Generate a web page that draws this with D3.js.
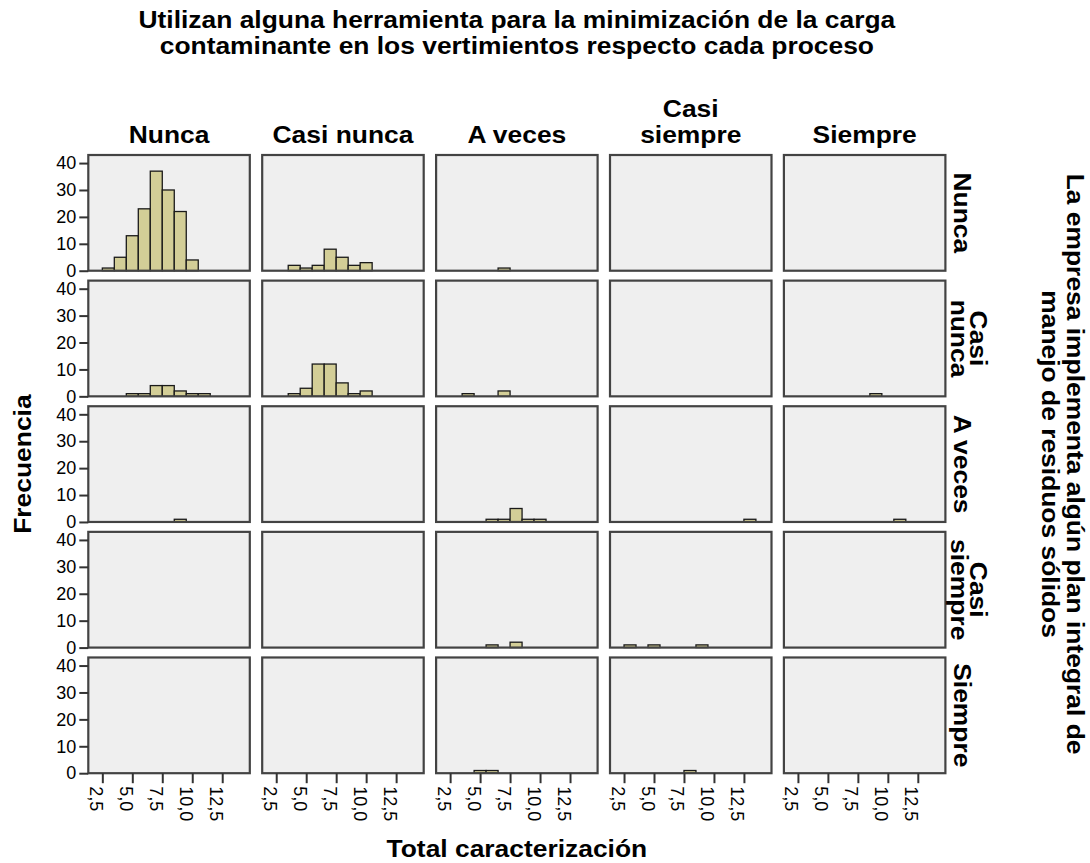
<!DOCTYPE html>
<html>
<head>
<meta charset="utf-8">
<script src="https://cdn.jsdelivr.net/npm/d3@7"></script>
<style>
  html, body { margin: 0; padding: 0; background: #ffffff; }
  svg { display: block; }
  text { font-family: "Liberation Sans", Arial, sans-serif; fill: #000; }
</style>
</head>
<body>
<svg id="chart" width="1090" height="863"></svg>
<script>
// ---------------- DATA ----------------
const titleLines = [
  "Utilizan alguna herramienta para la minimización de la carga",
  "contaminante en los vertimientos respecto cada proceso"
];
const colCategories = ["Nunca", "Casi nunca", "A veces", "Casi siempre", "Siempre"];
const rowCategories = ["Nunca", "Casi nunca", "A veces", "Casi siempre", "Siempre"];
const rowTitleLines = [
  "La empresa implementa algún plan integral de",
  "manejo de residuos sólidos"
];
const yTitle = "Frecuencia";
const xTitle = "Total caracterización";
const xTicks = [2.5, 5.0, 7.5, 10.0, 12.5];
const yTicks = [0, 10, 20, 30, 40];
const xDomain = [1.33, 14.8];
const yDomain = [0, 43];

// histogram cells: bin centers (bin width 1) and frequencies
const cells = [
  { row: "Nunca",        col: "Nunca",        x: [3, 4, 5, 6, 7, 8, 9, 10], n: [1, 5, 13, 23, 37, 30, 22, 4] },
  { row: "Nunca",        col: "Casi nunca",   x: [4, 5, 6, 7, 8, 9, 10],    n: [2, 1, 2, 8, 5, 2, 3] },
  { row: "Nunca",        col: "A veces",      x: [7],                       n: [1] },
  { row: "Casi nunca",   col: "Nunca",        x: [5, 6, 7, 8, 9, 10, 11],   n: [1, 1, 4, 4, 2, 1, 1] },
  { row: "Casi nunca",   col: "Casi nunca",   x: [4, 5, 6, 7, 8, 9, 10],    n: [1, 3, 12, 12, 5, 1, 2] },
  { row: "Casi nunca",   col: "A veces",      x: [4, 7],                    n: [1, 2] },
  { row: "Casi nunca",   col: "Siempre",      x: [9],                       n: [1] },
  { row: "A veces",      col: "Nunca",        x: [9],                       n: [1] },
  { row: "A veces",      col: "A veces",      x: [6, 7, 8, 9, 10],          n: [1, 1, 5, 1, 1] },
  { row: "A veces",      col: "Casi siempre", x: [13],                      n: [1] },
  { row: "A veces",      col: "Siempre",      x: [11],                      n: [1] },
  { row: "Casi siempre", col: "A veces",      x: [6, 8],                    n: [1, 2] },
  { row: "Casi siempre", col: "Casi siempre", x: [3, 5, 9],                 n: [1, 1, 1] },
  { row: "Siempre",      col: "A veces",      x: [5, 6],                    n: [1, 1] },
  { row: "Siempre",      col: "Casi siempre", x: [8],                       n: [1] }
];

// ---------------- STYLE / LAYOUT ----------------
const boldSize = 24, stretch = 1.1;
const tickSize = 18;
const panelFill = "#efefef";
const panelStroke = "#434343";
const barFill = "#d3ce97";
const barStroke = "#1a1a1a";

const svg = d3.select("#chart");

const colScale = d3.scaleBand().domain(colCategories).range([88.3, 945.4]).paddingInner(0.0713);
const rowScale = d3.scaleBand().domain(rowCategories).range([155, 773.2]).paddingInner(0.0788);
const bw = colScale.bandwidth(), bh = rowScale.bandwidth();
const x = d3.scaleLinear().domain(xDomain).range([0, bw]);
const y = d3.scaleLinear().domain(yDomain).range([bh, 0]);

function boldText(g, str, tx, ty, rot, anchor) {
  return g.append("text")
    .attr("transform", `translate(${tx},${ty}) rotate(${rot}) scale(${stretch},1)`)
    .attr("text-anchor", anchor || "middle")
    .style("font-size", boldSize + "px")
    .style("font-weight", "bold")
    .text(str);
}

// Title
const cx = (colScale.range()[0] + colScale.range()[1]) / 2;
titleLines.forEach((t, i) => boldText(svg, t, cx, 28 + i * 26, 0));

// Panels
rowCategories.forEach(r => {
  colCategories.forEach(c => {
    const g = svg.append("g").attr("transform", `translate(${colScale(c)},${rowScale(r)})`);
    g.append("rect").attr("x", 0).attr("y", 0).attr("width", bw).attr("height", bh)
      .attr("fill", panelFill);
    const cell = cells.find(d => d.row === r && d.col === c);
    if (cell) {
      const bars = cell.x.map((v, i) => ({ v, n: cell.n[i] }));
      g.selectAll("rect.bar").data(bars).enter().append("rect")
        .attr("class", "bar")
        .attr("x", d => x(d.v - 0.5))
        .attr("width", d => x(d.v + 0.5) - x(d.v - 0.5))
        .attr("y", d => y(d.n))
        .attr("height", d => y(0) - y(d.n))
        .attr("fill", barFill)
        .attr("stroke", barStroke)
        .attr("stroke-width", 1.3);
    }
    g.append("rect").attr("x", 0).attr("y", 0).attr("width", bw).attr("height", bh)
      .attr("fill", "none").attr("stroke", panelStroke).attr("stroke-width", 2.2);
  });
});

// Y axes (left column)
rowCategories.forEach(r => {
  const ax = svg.append("g")
    .attr("transform", `translate(${colScale(colCategories[0])},${rowScale(r)})`)
    .call(d3.axisLeft(y).tickValues(yTicks).tickSize(9).tickPadding(3).tickFormat(d3.format("d")));
  ax.select(".domain").remove();
  ax.selectAll(".tick line").attr("stroke", "#333").attr("stroke-width", 2);
  ax.selectAll(".tick text").style("font-size", tickSize + "px")
    .style("font-family", "Liberation Sans, Arial, sans-serif").attr("fill", "#222");
});

// X axes (bottom row)
const fmtComma = d => d3.format(".1f")(d).replace(".", ",");
colCategories.forEach(c => {
  const ax = svg.append("g")
    .attr("transform", `translate(${colScale(c)},${rowScale(rowCategories[rowCategories.length - 1]) + bh})`)
    .call(d3.axisBottom(x).tickValues(xTicks).tickSize(10).tickFormat(fmtComma));
  ax.select(".domain").remove();
  ax.selectAll(".tick line").attr("stroke", "#333").attr("stroke-width", 2);
  ax.selectAll(".tick text")
    .attr("x", 0).attr("y", 0).attr("dy", null)
    .attr("text-anchor", "start")
    .attr("transform", "translate(0,13) rotate(90) translate(0,13)")
    .style("font-size", tickSize + "px")
    .style("font-family", "Liberation Sans, Arial, sans-serif").attr("fill", "#222");
});

// measuring helper
function textWidth(str) {
  const t = svg.append("text").style("font-size", boldSize + "px").style("font-weight", "bold").text(str);
  const w = t.node().getComputedTextLength() * stretch;
  t.remove();
  return w;
}
function wrap(str, limit) {
  return textWidth(str) > limit ? str.split(" ") : [str];
}

// Column headers
colCategories.forEach(c => {
  const lines = wrap(c, bw - 8);
  const mid = colScale(c) + bw / 2;
  lines.forEach((l, i) => boldText(svg, l, mid, 142.5 - (lines.length - 1 - i) * 26, 0));
});

// Row headers (right side, rotated 90)
rowCategories.forEach(r => {
  const lines = wrap(r, bh - 6);
  const mid = rowScale(r) + bh / 2;
  if (lines.length === 1) {
    boldText(svg, lines[0], 953.5, mid, 90);
  } else {
    lines.forEach((l, i) => boldText(svg, l, 969.5 - i * 19, mid, 90));
  }
});

// Right title
const rmid = (rowScale.range()[0] + rowScale.range()[1]) / 2;
rowTitleLines.forEach((l, i) => boldText(svg, l, 1067 - i * 25, rmid, 90));

// Y title
boldText(svg, yTitle, 31, rmid, -90);

// X title
boldText(svg, xTitle, cx, 857, 0);
</script>
</body>
</html>
